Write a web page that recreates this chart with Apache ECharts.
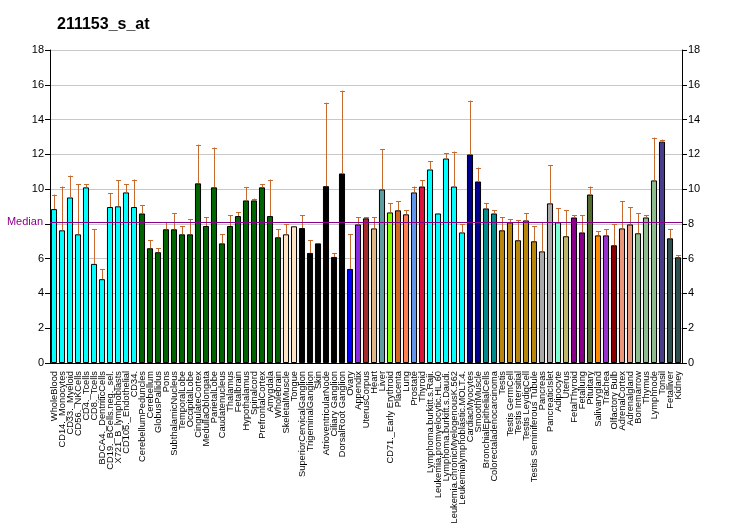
<!DOCTYPE html>
<html>
<head>
<meta charset="utf-8">
<script src="https://cdn.jsdelivr.net/npm/echarts@6/dist/echarts.min.js"></script>
<style>html,body{margin:0;padding:0;background:#fff}#c{width:732px;height:530px}</style>
</head>
<body>
<div id="c"></div>
<script>
const title = "211153_s_at";
const categories = [
 "WholeBlood","CD14._Monocytes","CD33._Myeloid","CD56._NKCells","CD4._Tcells","CD8._Tcells",
 "BDCA4._DentriticCells","CD19._BCells.neg._sel.","X721_B_lymphoblasts","CD105._Endothelial","CD34.",
 "CerebellumPeduncles","Cerebellum","GlobusPallidus","Pons","SubthalamicNucleus","TemporalLobe",
 "OccipitalLobe","CingulateCortex","MedullaOblongata","ParietalLobe","Caudatenucleus","Thalamus",
 "Fetalbrain","Hypothalamus","Spinalcord","PrefrontalCortex","Amygdala","Wholebrain",
 "SkeletalMuscle","Tongue",
 "SuperiorCervicalGanglion","TrigeminalGanglion","Skin","AtrioventricularNode","Ciliary Ganglion","DorsalRoot Ganglion",
 "Ovary","Appendix","UterusCorpus","Heart","Liver","CD71._Early Erythroid","Placenta","Lung","Prostate","Thyroid",
 "Lymphoma.burkitt.s.Raji.","Leukemia.promyelocytic.HL.60","Lymphoma.burkitt.s.Daudi.",
 "Leukemia.chronicMyelogenousK.562","Leukemialymphoblastic.MOLT.4.",
 "CardiacMyocytes","SmoothMuscle","BronchialEpithelialCells","Colorectaladenocarcinoma",
 "Testis","Testis GermCell","Testis Intersitial","Testis LeydigCell","Testis Seminiferous Tubule",
 "Pancreas","PancreaticIslet","Adipocyte","Uterus","FetalThyroid","Fetallung","Pituitary",
 "Salivarygland","Trachea","Olfactory Bulb","AdrenalCortex","Adrenalgland","Bonemarrow",
 "Thymus","Lymphnode","Tonsil","Fetalliver","Kidney"
];
const values = [
 8.85,7.63,9.52,7.40,10.10,5.70,4.82,8.97,9.01,9.81,8.97,
 8.60,6.60,6.37,7.69,7.69,7.40,7.40,10.33,7.88,10.10,6.88,7.88,8.45,9.35,9.35,10.10,8.45,7.23,
 7.40,7.86,
 7.76,6.33,6.88,10.17,6.10,10.90,
 5.41,7.97,8.32,7.74,9.98,8.66,8.78,8.55,9.81,10.15,
 11.13,8.60,11.76,10.15,7.51,
 11.99,10.44,8.89,8.60,
 7.63,8.09,7.06,8.20,7.00,
 6.42,9.18,8.09,7.29,8.37,7.51,9.69,7.34,7.34,6.77,7.74,7.97,7.46,8.37,10.50,12.73,7.17,6.08
];
const errorTops = [
 9.69,10.15,10.78,10.27,10.27,7.69,5.39,9.75,10.52,10.27,10.55,
 9.06,7.06,6.60,8.09,8.60,7.88,8.26,12.56,8.37,12.39,7.40,8.49,8.66,10.10,9.46,10.27,10.55,7.69,
 7.97,null,
 8.49,7.06,null,14.97,6.31,15.66,
 7.40,8.37,8.37,8.37,12.28,9.18,9.29,8.78,10.15,10.50,
 11.59,null,12.05,12.16,7.97,
 15.09,11.24,9.18,8.78,
 8.37,8.26,8.20,8.60,7.86,
 8.09,11.36,8.89,8.78,8.49,8.49,10.15,7.57,7.69,7.97,9.29,8.95,8.60,8.49,12.96,12.85,7.69,6.20
];
const groupSizes = [11,18,2,6,1,1,1,1,1,1,1,1,1,1,5,2,2,5,2,1,1,2,1,1,1,1,2,3,1,2];
const median = 8.11;
const yTicks = [0,2,4,6,8,10,12,14,16,18];

const palette = ["#00FFFF","#006400","#FFE4C4","#000000","#0000FF","#8A2BE2","#A52A2A","#DEB887",
 "#5F9EA0","#7FFF00","#D2691E","#FF7F50","#6495ED","#DC143C","#00FFFF","#00008B","#008B8B",
 "#B8860B","#A9A9A9","#7FFFD4","#BDB76B","#8B008B","#556B2F","#FF8C00","#9932CC","#8B0000",
 "#E9967A","#8FBC8F","#483D8B","#2F4F4F"];
const barColors = [];
groupSizes.forEach((n,g)=>{for(let i=0;i<n;i++) barColors.push(palette[g]);});

const chart = echarts.init(document.getElementById('c'));
const font = "'Liberation Sans', Arial, sans-serif";
chart.setOption({
  animation:false,
  title:{text:title,left:52,top:12,textStyle:{fontFamily:font,fontSize:16,fontWeight:'bold',color:'#000'}},
  grid:{left:50,right:50,top:50,bottom:167},
  xAxis:{type:'category',data:categories,boundaryGap:true,
    axisLine:{lineStyle:{color:'#000',width:1}},
    axisTick:{alignWithLabel:true,length:5,lineStyle:{color:'#000'}},
    axisLabel:{interval:0,rotate:90,fontSize:9.3,fontFamily:font,color:'#000',margin:8}},
  yAxis:[
    {type:'value',min:yTicks[0],max:yTicks[yTicks.length-1],interval:2,
     axisLine:{show:true,lineStyle:{color:'#000'}},axisTick:{show:true,length:5,lineStyle:{color:'#000'}},
     axisLabel:{fontSize:11,fontFamily:font,color:'#000',margin:6,
       formatter:function(v){return Math.abs(v-median)<0.5?'':String(v);}},
     splitLine:{show:true,lineStyle:{color:'#C8C8C8',width:1}}},
    {type:'value',min:yTicks[0],max:yTicks[yTicks.length-1],interval:2,position:'right',
     axisLine:{show:true,lineStyle:{color:'#000'}},axisTick:{show:true,length:5,lineStyle:{color:'#000'}},
     axisLabel:{fontSize:11,fontFamily:font,color:'#000',margin:6},
     splitLine:{show:false}}
  ],
  series:[
    {type:'bar',barWidth:'76%',z:2,
     data:values.map((v,i)=>({value:v,itemStyle:{color:barColors[i]}})),
     itemStyle:{borderColor:'#000',borderWidth:1},
     markLine:{silent:true,symbol:'none',z:5,
       lineStyle:{color:'#8B008B',type:'solid',width:1},
       label:{position:'start',formatter:'Median',color:'#8B008B',fontSize:11,fontFamily:font,distance:7},
       data:[{yAxis:median}]}},
    {type:'custom',z:3,
     data:values.map((v,i)=>[i,v,errorTops[i]==null?v:errorTops[i]]),
     renderItem:function(params,api){
       const lo=api.coord([api.value(0),api.value(1)]);
       const hi=api.coord([api.value(0),api.value(2)]);
       if(Math.abs(lo[1]-hi[1])<0.5) return null;
       const x=Math.round(lo[0])+0.5;
       const st={stroke:'#C8692E',lineWidth:1};
       return {type:'group',children:[
         {type:'line',shape:{x1:x,y1:lo[1],x2:x,y2:hi[1]},style:st},
         {type:'line',shape:{x1:x-2.5,y1:Math.round(hi[1])+0.5,x2:x+2.5,y2:Math.round(hi[1])+0.5},style:st}
       ]};
     }}
  ]
});
</script>
</body>
</html>
